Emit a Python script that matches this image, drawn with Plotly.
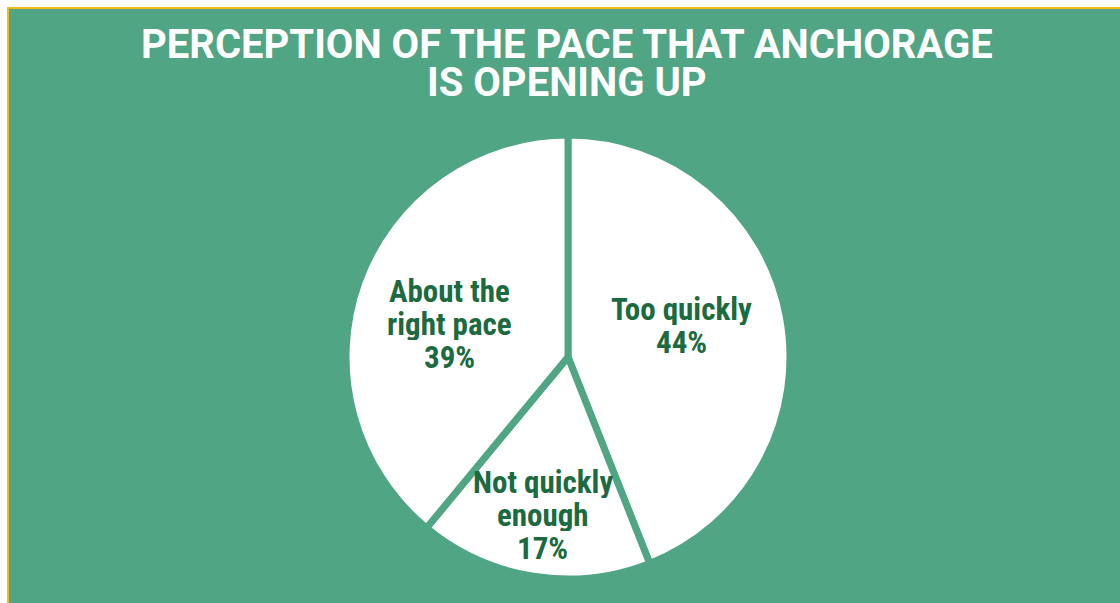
import math
import plotly.graph_objects as go

# Survey responses: perception of reopening pace
categories = ["Too quickly", "Not quickly enough", "About the right pace"]
label_lines = [["Too quickly"], ["Not quickly", "enough"], ["About the", "right pace"]]
shares = [44, 17, 39]

title_lines = ["PERCEPTION OF THE PACE THAT ANCHORAGE", "IS OPENING UP"]

W, H = 1120, 603
GREEN = "#50A584"
DARK = "#1B6A40"
YELLOW = "#F4B819"
LABEL_FONT = "Roboto Condensed, Liberation Sans Narrow, Roboto"

# pie geometry in pixels
cx, cy, r = 568, 357, 222
dom_x = [(cx - r) / W, (cx + r) / W]
dom_y = [(H - cy - r) / H, (H - cy + r) / H]

fig = go.Figure()
fig.add_trace(go.Pie(
    labels=categories,
    values=shares,
    sort=False,
    direction="clockwise",
    rotation=0,
    textinfo="none",
    hoverinfo="label+percent",
    marker=dict(colors=["white"] * len(shares), line=dict(color=GREEN, width=7)),
    domain=dict(x=dom_x, y=dom_y),
    showlegend=False,
))

# label blocks placed along each slice's mid angle (plus a small nudge),
# one annotation per line for tight leading
radial = [0.52, 0.72, 0.55]
nudge = [(0, -10), (0, 0), (-4, 8)]
line_gap = 33
annotations = []
total = sum(shares)
cum = 0
for lines, val, rf, (ndx, ndy) in zip(label_lines, shares, radial, nudge):
    mid = (cum + val / 2) / total * 2 * math.pi
    cum += val
    px = cx + rf * r * math.sin(mid) + ndx
    py = cy - rf * r * math.cos(mid) + ndy
    block = lines + [f"{val}%"]
    n = len(block)
    for i, txt in enumerate(block):
        ly = py + (i - (n - 1) / 2) * line_gap
        annotations.append(dict(
            x=px / W, y=1 - ly / H, xref="paper", yref="paper",
            text=f"<b>{txt}</b>", showarrow=False,
            font=dict(family=LABEL_FONT, size=31, color=DARK),
            xanchor="center", yanchor="middle", height=line_gap - 1,
        ))

# two-line title with tight leading
title_gap = 38
for i, txt in enumerate(title_lines):
    annotations.append(dict(
        x=567 / W, y=1 - (44 + i * title_gap) / H, xref="paper", yref="paper",
        text=f"<b>{txt}</b>", showarrow=False,
        font=dict(family="Roboto", size=40, color="white"),
        xanchor="center", yanchor="middle", height=title_gap - 1,
    ))

fig.update_layout(
    width=W, height=H,
    margin=dict(l=0, r=0, t=0, b=0),
    paper_bgcolor="white",
    plot_bgcolor="white",
    shapes=[dict(
        type="rect", xref="paper", yref="paper",
        x0=8 / W, x1=1.05, y0=-0.05, y1=1 - 8 / H,
        fillcolor=GREEN, line=dict(color=YELLOW, width=2), layer="below",
    )],
    annotations=annotations,
)

fig.write_html("out.html")
